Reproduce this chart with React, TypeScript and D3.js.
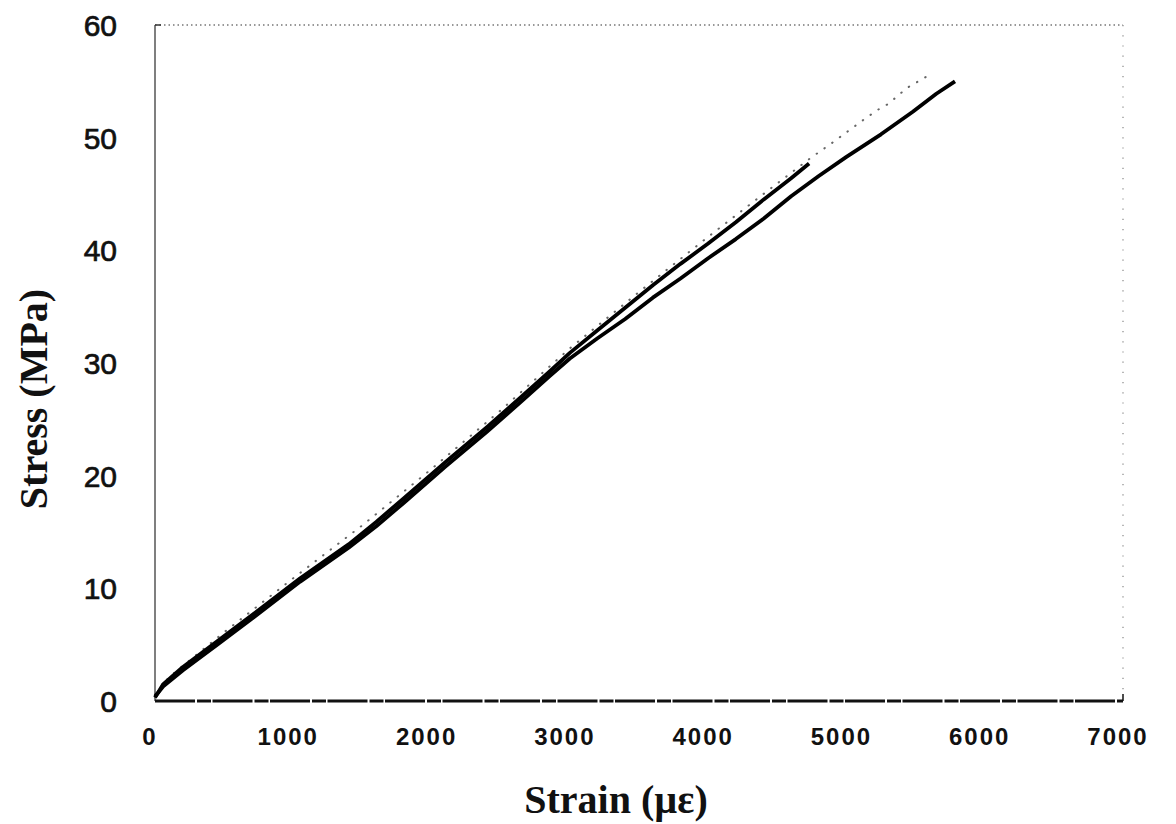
import React, { useEffect, useRef } from "react";
import * as d3 from "d3";

// strain (µε) / stress (MPa) readings
const specimenA: [number, number][] = [
  [0, 0.3], [60, 1.5], [200, 3.0], [450, 5.3], [700, 7.6], [1050, 10.9],
  [1400, 13.9], [1600, 15.9], [1800, 18.0], [2100, 21.2], [2400, 24.3],
  [2650, 27.0], [2850, 29.2], [3000, 30.9], [3200, 32.9], [3400, 34.9],
  [3600, 36.9], [3800, 38.8], [4000, 40.6], [4200, 42.5], [4400, 44.5],
  [4600, 46.4], [4730, 47.7],
];

const specimenB: [number, number][] = [
  [0, 0.4], [60, 1.3], [200, 2.7], [450, 5.0], [700, 7.3], [1050, 10.6],
  [1400, 13.6], [1600, 15.5], [1800, 17.6], [2100, 20.8], [2400, 23.9],
  [2650, 26.6], [2850, 28.8], [3000, 30.4], [3200, 32.2], [3400, 33.9],
  [3600, 35.8], [3800, 37.5], [4000, 39.3], [4200, 41.0], [4400, 42.8],
  [4600, 44.8], [4800, 46.6], [5000, 48.3], [5250, 50.3], [5480, 52.3],
  [5650, 53.9], [5785, 55.0],
];

const specimenC: [number, number][] = [
  [0, 0.6], [100, 2.1], [500, 6.1], [1000, 10.9], [1500, 15.6], [2000, 20.6],
  [2500, 25.8], [3000, 31.3], [3500, 36.3], [4000, 41.2], [4400, 45.0],
  [4736, 48.15], [4881, 49.4], [5014, 50.6], [5147, 51.8], [5243, 52.6],
  [5303, 53.0], [5436, 54.4], [5604, 55.6],
];

const xTicks = [0, 1000, 2000, 3000, 4000, 5000, 6000, 7000];
const yTicks = [0, 10, 20, 30, 40, 50, 60];

const App = () => {
  const ref = useRef<SVGSVGElement>(null);

  useEffect(() => {
    if (!ref.current) return;
    const svg = d3.select(ref.current);
    svg.selectAll("*").remove();

    const left = 155, right = 1123, top = 25, bottom = 701;
    const x = d3.scaleLinear().domain([0, 7000]).range([left, right]);
    const y = d3.scaleLinear().domain([0, 60]).range([bottom, top]);

    // frame
    svg.append("line")
      .attr("x1", left).attr("x2", right).attr("y1", top).attr("y2", top)
      .attr("stroke", "#777").attr("stroke-width", 1.3)
      .attr("stroke-dasharray", "1.5 3");
    svg.append("line")
      .attr("x1", right).attr("x2", right).attr("y1", top).attr("y2", bottom - 6)
      .attr("stroke", "#888").attr("stroke-width", 1.2)
      .attr("stroke-dasharray", "1.2 9");
    svg.append("line")
      .attr("x1", right).attr("x2", right).attr("y1", bottom - 7).attr("y2", bottom)
      .attr("stroke", "#111").attr("stroke-width", 1.5);
    svg.append("line")
      .attr("x1", left).attr("x2", left).attr("y1", top).attr("y2", bottom)
      .attr("stroke", "#555").attr("stroke-width", 1.5);
    svg.append("line")
      .attr("x1", left).attr("x2", left + 6).attr("y1", top).attr("y2", top)
      .attr("stroke", "#333").attr("stroke-width", 1.5);
    svg.append("line")
      .attr("x1", left).attr("x2", right).attr("y1", bottom).attr("y2", bottom)
      .attr("stroke", "#111").attr("stroke-width", 2.8)
      .attr("stroke-dasharray", "40 2 14 1.5");

    const line = d3.line<[number, number]>()
      .x((d) => x(d[0]))
      .y((d) => y(d[1]))
      .curve(d3.curveLinear);

    svg.append("path")
      .attr("d", line(specimenC))
      .attr("fill", "none")
      .attr("stroke", "#666")
      .attr("stroke-width", 2)
      .attr("stroke-linecap", "round")
      .attr("stroke-dasharray", "0.5 9");

    [specimenA, specimenB].forEach((s) => {
      svg.append("path")
        .attr("d", line(s))
        .attr("fill", "none")
        .attr("stroke", "#000")
        .attr("stroke-width", 3.8)
        .attr("stroke-linejoin", "round");
    });

    // tick labels
    svg.selectAll(".ytick")
      .data(yTicks)
      .enter()
      .append("text")
      .attr("class", "ytick")
      .attr("x", 117)
      .attr("y", (d) => y(d) + 11)
      .attr("text-anchor", "end")
      .attr("font-family", "Liberation Sans, Arial, sans-serif")
      .attr("font-size", 30)
      .attr("fill", "#111")
      .attr("stroke", "#111")
      .attr("stroke-width", 0.7)
      .text((d) => d);

    svg.selectAll(".xtick")
      .data(xTicks)
      .enter()
      .append("text")
      .attr("class", "xtick")
      .attr("x", (d) => x(d) - 5)
      .attr("y", 745)
      .attr("text-anchor", "middle")
      .attr("font-family", "Liberation Sans, Arial, sans-serif")
      .attr("font-weight", "bold")
      .attr("font-size", 24)
      .attr("letter-spacing", 2)
      .attr("fill", "#111")
      .text((d) => d);

    // axis titles
    svg.append("text")
      .attr("x", 616)
      .attr("y", 813)
      .attr("text-anchor", "middle")
      .attr("font-family", "Liberation Serif, Times New Roman, serif")
      .attr("font-weight", "bold")
      .attr("font-size", 40)
      .attr("fill", "#111")
      .text("Strain (µε)");

    svg.append("text")
      .attr("transform", "translate(47,399) rotate(-90)")
      .attr("text-anchor", "middle")
      .attr("font-family", "Liberation Serif, Times New Roman, serif")
      .attr("font-weight", "bold")
      .attr("font-size", 40)
      .attr("fill", "#111")
      .text("Stress (MPa)");
  }, []);

  return (
    <svg
      ref={ref}
      width={1176}
      height={824}
      style={{ position: "absolute", left: 0, top: 0, background: "#fff" }}
    />
  );
};

export default App;
